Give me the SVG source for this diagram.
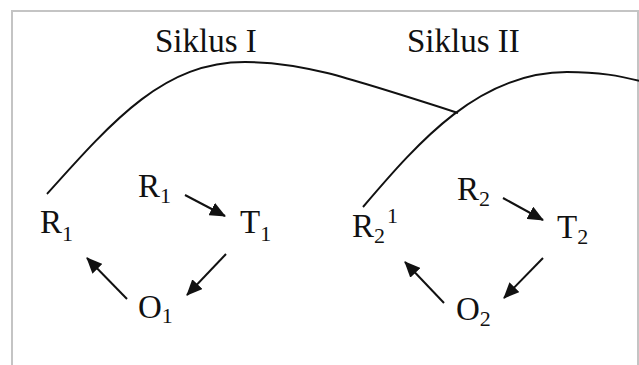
<svg xmlns="http://www.w3.org/2000/svg" width="639" height="365" viewBox="0 0 639 365">
<style>
text{font-family:"Liberation Serif","Times New Roman",serif;font-size:33px;fill:#111}
.s{font-size:22px}
.curve{fill:none;stroke:#111;stroke-width:2}
.arr{stroke:#111;stroke-width:2;fill:none;marker-end:url(#ah)}
</style>
<defs>
<marker id="ah" markerUnits="userSpaceOnUse" markerWidth="16" markerHeight="14" viewBox="0 0 16 14" refX="15" refY="7" orient="auto">
<path d="M0,0 L16,7 L0,14 z" fill="#111"/>
</marker>
</defs>
<rect x="0" y="0" width="639" height="365" fill="#fff"/>
<rect id="frame" x="12" y="11" width="626" height="370" fill="none" stroke="#c4c4c4" stroke-width="2"/>
<g id="titles">
<text id="siklus1" x="155" y="52">Siklus I</text>
<text id="siklus2" x="407" y="52">Siklus II</text>
</g>
<g id="connectors">
<path class="curve" d="M47,194 C115,118 165,62 245,62 C300,62 340,75 458,113"/>
<path class="curve" d="M363,207 C420,140 480,72 567,72 C600,72 620,76 640,81"/>
<line class="arr" x1="185" y1="195" x2="225" y2="216"/>
<line class="arr" x1="226" y1="254" x2="187" y2="295"/>
<line class="arr" x1="127" y1="299" x2="87" y2="258"/>
<line class="arr" x1="503" y1="198" x2="543" y2="220"/>
<line class="arr" x1="543" y1="258" x2="504" y2="298"/>
<line class="arr" x1="444" y1="303" x2="405" y2="262"/>
</g>
<g id="R1a"><text x="40" y="233">R<tspan class="s" dy="8">1</tspan></text></g>
<g id="R1b"><text x="138" y="197">R<tspan class="s" dy="6">1</tspan></text></g>
<g id="T1"><text x="240" y="233">T<tspan class="s" dy="8">1</tspan></text></g>
<g id="O1"><text x="138" y="318">O<tspan class="s" dy="5">1</tspan></text></g>
<g id="R2a"><text x="352" y="237">R<tspan class="s" dy="6">2</tspan><tspan class="s" dx="2" dy="-20">1</tspan></text></g>
<g id="R2b"><text x="457" y="200">R<tspan class="s" dy="6">2</tspan></text></g>
<g id="T2"><text x="557" y="238">T<tspan class="s" dy="6">2</tspan></text></g>
<g id="O2"><text x="456" y="320">O<tspan class="s" dy="6">2</tspan></text></g>
</svg>
